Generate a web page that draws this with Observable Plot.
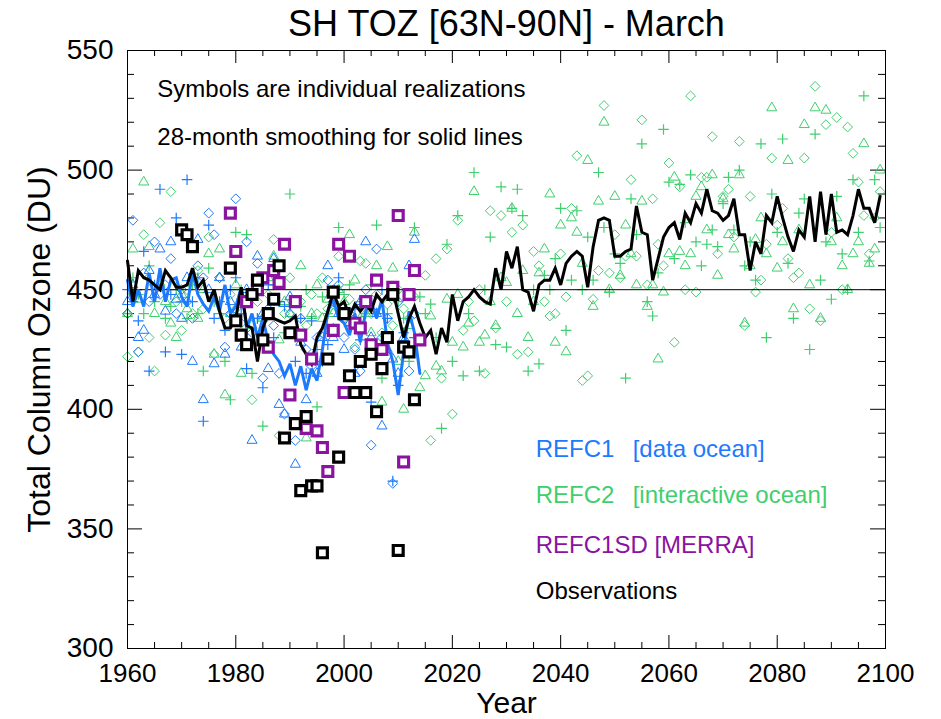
<!DOCTYPE html>
<html>
<head>
<meta charset="utf-8">
<script src="https://cdn.jsdelivr.net/npm/d3@7"></script>
<script src="https://cdn.jsdelivr.net/npm/@observablehq/plot@0.6"></script>
<style>
  html, body { margin: 0; padding: 0; background: #fff; }
  #chart svg { display: block; }
</style>
</head>
<body>
<div id="chart"></div>
<script>
// ---------------- DATA ----------------
const title = "SH TOZ [63N-90N] - March";
const yLabel = "Total Column Ozone (DU)";
const xLabel = "Year";
const note1 = "Symbols are individual realizations";
const note2 = "28-month smoothing for solid lines";
const legendNames = ["REFC1", "REFC2", "REFC1SD [MERRA]", "Observations"];
const legendExtra = ["[data ocean]", "[interactive ocean]"];

const xTickLabels = [1960, 1980, 2000, 2020, 2040, 2060, 2080, 2100];
const yTickLabels = [300, 350, 400, 450, 500, 550];
const refLevel = [450];

// REFC2 (interactive ocean), one value per year 1960..2099
const refc2Years = d3.range(1960, 2100);
const refc2Tri = [
  440,467,446,495,468,440,452,445,436,430,
  448,442,455,438,450,465,423,467,406,440,
  452,415,445,435,450,438,455,464,429,445,
  440,432,460,388,440,452,438,446,440,450,
  445,473,454,438,440,432,460,403,468,459,
  420,400,435,474,409,414,439,418,416,446,
  428,448,426,436,491,428,431,445,435,455,
  453,484,440,458,430,445,457,467,490,428,
  477,424,480,474,461,504,443,487,520,450,
  489,456,477,465,452,487,443,452,421,449,
  465,497,466,460,465,489,493,475,498,456,
  488,473,467,498,436,460,471,480,465,526,
  459,470,504,442,475,519,452,526,438,525,
  470,480,460,450,465,470,511,461,467,500
];
const refc2Dia = [
  422,448,424,473,430,416,478,431,491,445,
  433,450,440,458,442,472,423,455,438,448,
  442,436,446,404,445,438,448,471,389,440,
  455,432,445,435,448,440,455,442,450,464,
  438,446,426,462,461,440,448,432,444,435,
  450,442,438,447,430,456,387,463,413,467,
  398,479,433,445,437,450,415,483,434,481,
  445,474,423,477,424,466,460,445,439,440,
  465,447,484,506,412,414,446,458,527,457,
  473,455,464,496,464,521,452,488,469,460,
  503,428,493,450,531,449,497,497,514,465,
  489,492,472,512,435,489,449,454,469,505,
  477,484,463,455,457,505,442,535,437,519,
  474,522,450,518,507,495,481,465,480,491
];
const refc2Plus = [
  440,455,448,440,460,445,452,438,443,450,
  445,438,452,440,416,459,445,440,420,404,
  474,450,473,415,438,393,440,452,445,432,
  490,430,443,450,438,401,447,440,434,476,
  448,452,438,445,440,452,477,413,440,450,
  445,438,420,476,447,440,444,430,392,469,
  420,481,414,440,499,416,450,472,427,493,
  426,484,492,481,416,450,419,456,450,463,
  484,433,454,483,450,472,454,499,476,449,
  465,461,413,488,473,511,445,439,457,517,
  495,463,494,478,498,470,460,469,475,468,
  486,497,475,500,460,470,454,511,430,490,
  474,513,461,438,482,488,425,515,454,470,
  446,489,465,450,496,474,531,462,496,476
];
// 28-month smoothed line (black), 1960..2099
const smoothBlack = [
  462,445,458,455,454,452,450,458,455,451,
  451,452,459,451,454,445,450,441,434,434,
  438,451,435,434,420,434,440,438,437,436,
  437,439,427,423,419,430,434,441,449,443,
  445,439,444,441,444,441,448,445,448,450,
  440,430,438,443,436,430,433,423,434,428,
  448,437,445,447,450,447,445,444,459,450,
  466,459,468,450,449,441,452,454,454,459,
  452,461,464,466,464,451,468,479,480,479,
  464,464,466,467,485,474,473,454,463,472,
  476,478,471,482,478,486,482,492,483,482,
  479,481,488,473,473,458,470,465,481,478,
  489,480,472,466,475,472,489,470,491,473,
  490,474,475,473,481,492,484,484,478,489
];

// REFC1 (data ocean), one value per year 1960..2013
const refc1Years = d3.range(1960, 2014);
const refc1Tri = [
  445,452,430,433,458,448,467,441,470,446,
  438,455,420,471,404,450,419,455,423,445,
  436,426,450,387,464,440,417,463,402,398,
  447,377,428,404,420,415,430,460,430,440,
  425,436,415,445,470,430,440,393,425,421,
  415,430,460,471
];
const refc1Dia = [
  440,479,424,457,445,470,448,452,463,440,
  450,445,438,460,455,482,473,455,426,440,
  488,445,470,432,461,413,442,435,415,398,
  440,387,438,425,418,430,432,454,445,452,
  430,440,425,416,450,385,467,430,438,369,
  445,428,416,440
];
const refc1Plus = [
  450,445,437,466,416,452,492,424,448,480,
  423,496,445,455,395,477,438,445,433,450,
  455,440,417,448,438,409,452,430,445,443,
  443,420,438,415,437,425,420,427,445,455,
  440,435,442,429,445,403,440,450,438,370,
  410,432,448,430
];
// REFC1 smoothed line (blue), 1960..2014
const smoothBlueYears = d3.range(1960, 2015);
const smoothBlue = [
  454,443,450,443,457,445,459,445,454,455,
  447,443,457,448,444,441,447,441,452,440,
  443,451,434,440,430,438,428,423,420,414,
  419,410,418,408,417,412,425,441,446,438,
  436,431,440,428,441,445,438,446,428,420,
  406,424,441,432,415
];

// REFC1SD [MERRA] (purple squares)
const sdYears = [1979,1980,1982,1984,1985,1986,1987,1988,1989,1990,1991,1992,1993,1994,1995,1996,1997,1998,1999,2000,2001,2002,2003,2004,2005,2006,2007,2009,2010,2011,2012,2013,2014];
const sdVals  = [482,466,445,450,455,426,458,453,469,406,445,431,392,421,391,384,374,433,469,407,464,436,434,445,427,454,425,451,481,378,448,458,429];

// Observations (black squares)
const obsYears = [1970,1971,1972,1979,1980,1981,1982,1983,1984,1985,1986,1987,1988,1989,1990,1991,1992,1993,1994,1995,1996,1997,1998,1999,2000,2001,2002,2003,2004,2005,2006,2007,2008,2009,2010,2011,2012,2013];
const obsVals  = [475,473,468,459,437,431,427,448,454,429,440,446,460,388,432,394,366,397,368,368,340,421,449,380,440,414,407,420,407,423,399,417,430,448,341,426,424,404];

// ---------------- STYLE ----------------
const BLUE = "#1d7afc";
const GREEN = "#3fcf6e";
const PURPLE = "#8a139f";
const BLACK = "#000000";
const FONT = "'Liberation Sans', Arial, Helvetica, sans-serif";

const W = 941, H = 719;
const mL = 127, mR = 56, mT = 50, mB = 71;
const innerW = W - mL - mR, innerH = H - mT - mB;

const xMinor = d3.range(1960, 2101, 5).filter(d => d % 20 !== 0);
const yMinor = d3.range(300, 551, 10).filter(d => d % 50 !== 0);

const rows = (xs, vs) => xs.map((x, i) => ({x, v: vs[i]})).filter(d => d.v != null);

const chart = Plot.plot({
  width: W, height: H,
  marginLeft: mL, marginRight: mR, marginTop: mT, marginBottom: mB,
  style: {fontFamily: FONT, background: "#fff", color: "#000", overflow: "visible"},
  x: {domain: [1960, 2100]},
  y: {domain: [300, 550]},
  marks: [
    // axes labels
    Plot.axisX(xTickLabels, {tickSize: 0, tickPadding: 15, fontSize: 26, label: null, tickFormat: d => String(d)}),
    Plot.axisY(yTickLabels, {tickSize: 0, tickPadding: 14, fontSize: 28, label: null, tickFormat: d => String(d)}),
    // inward ticks, bottom/top
    Plot.tickX(xTickLabels, {x: d => d, insetTop: innerH - 13, stroke: BLACK}),
    Plot.tickX(xMinor, {x: d => d, insetTop: innerH - 6, stroke: BLACK}),
    Plot.tickX(xTickLabels, {x: d => d, insetBottom: innerH - 13, stroke: BLACK}),
    Plot.tickX(xMinor, {x: d => d, insetBottom: innerH - 6, stroke: BLACK}),
    // inward ticks, left/right
    Plot.tickY(yTickLabels, {y: d => d, insetRight: innerW - 15, stroke: BLACK}),
    Plot.tickY(yMinor, {y: d => d, insetRight: innerW - 7, stroke: BLACK}),
    Plot.tickY(yTickLabels, {y: d => d, insetLeft: innerW - 15, stroke: BLACK}),
    Plot.tickY(yMinor, {y: d => d, insetLeft: innerW - 7, stroke: BLACK}),

    // REFC2 symbols
    Plot.dot(rows(refc2Years, refc2Tri), {x: "x", y: "v", symbol: "triangle2", r: 4.8, stroke: GREEN, strokeWidth: 1, fill: "none"}),
    Plot.dot(rows(refc2Years, refc2Dia), {x: "x", y: "v", symbol: "diamond2", r: 4.4, stroke: GREEN, strokeWidth: 1, fill: "none"}),
    Plot.dot(rows(refc2Years, refc2Plus), {x: "x", y: "v", symbol: "plus", r: 3.5, stroke: GREEN, strokeWidth: 1.2, fill: "none"}),
    // REFC1 symbols
    Plot.dot(rows(refc1Years, refc1Tri), {x: "x", y: "v", symbol: "triangle2", r: 4.8, stroke: BLUE, strokeWidth: 1, fill: "none"}),
    Plot.dot(rows(refc1Years, refc1Dia), {x: "x", y: "v", symbol: "diamond2", r: 4.4, stroke: BLUE, strokeWidth: 1, fill: "none"}),
    Plot.dot(rows(refc1Years, refc1Plus), {x: "x", y: "v", symbol: "plus", r: 3.5, stroke: BLUE, strokeWidth: 1.2, fill: "none"}),

    // reference line
    Plot.ruleY(refLevel, {y: d => d, stroke: BLACK, strokeWidth: 1}),

    // smoothed lines
    Plot.line(rows(smoothBlueYears, smoothBlue), {x: "x", y: "v", stroke: BLUE, strokeWidth: 3, strokeLinejoin: "miter", strokeMiterlimit: 3}),
    Plot.line(rows(refc2Years, smoothBlack), {x: "x", y: "v", stroke: BLACK, strokeWidth: 3, strokeLinejoin: "miter", strokeMiterlimit: 3}),

    // REFC1SD and observations
    Plot.dot(rows(sdYears, sdVals), {x: "x", y: "v", symbol: "square2", r: 6.3, stroke: PURPLE, strokeWidth: 3.2, fill: "#fff"}),
    Plot.dot(rows(obsYears, obsVals), {x: "x", y: "v", symbol: "square2", r: 6.3, stroke: BLACK, strokeWidth: 3.2, fill: "#fff"}),

    Plot.frame({stroke: BLACK, strokeWidth: 1}),

    // notes
    Plot.text([{x: 1965.5, y: 533.8, t: note1}, {x: 1965.5, y: 513.7, t: note2}],
      {x: "x", y: "y", text: "t", textAnchor: "start", fontSize: 24, fill: BLACK}),
    // legend
    Plot.text([
      {x: 2035.4, y: 383.3, t: legendNames[0], c: BLUE},
      {x: 2053.3, y: 383.3, t: legendExtra[0], c: BLUE},
      {x: 2035.4, y: 364.0, t: legendNames[1], c: GREEN},
      {x: 2053.3, y: 364.0, t: legendExtra[1], c: GREEN},
      {x: 2035.4, y: 343.0, t: legendNames[2], c: PURPLE},
      {x: 2035.4, y: 323.8, t: legendNames[3], c: BLACK}
    ], {x: "x", y: "y", text: "t", fill: d => d.c, textAnchor: "start", fontSize: 24}),

    // titles
    Plot.text([title], {text: d => d, frameAnchor: "top", lineAnchor: "middle", dy: -26, fontSize: 36, fill: BLACK}),
    Plot.text([yLabel], {text: d => d, frameAnchor: "left", textAnchor: "middle", lineAnchor: "middle", dx: -88, rotate: -90, fontSize: 32, fill: BLACK}),
    Plot.text([xLabel], {text: d => d, frameAnchor: "bottom", lineAnchor: "middle", dy: 55, fontSize: 30, fill: BLACK})
  ]
});
document.getElementById("chart").appendChild(chart);
</script>
</body>
</html>
